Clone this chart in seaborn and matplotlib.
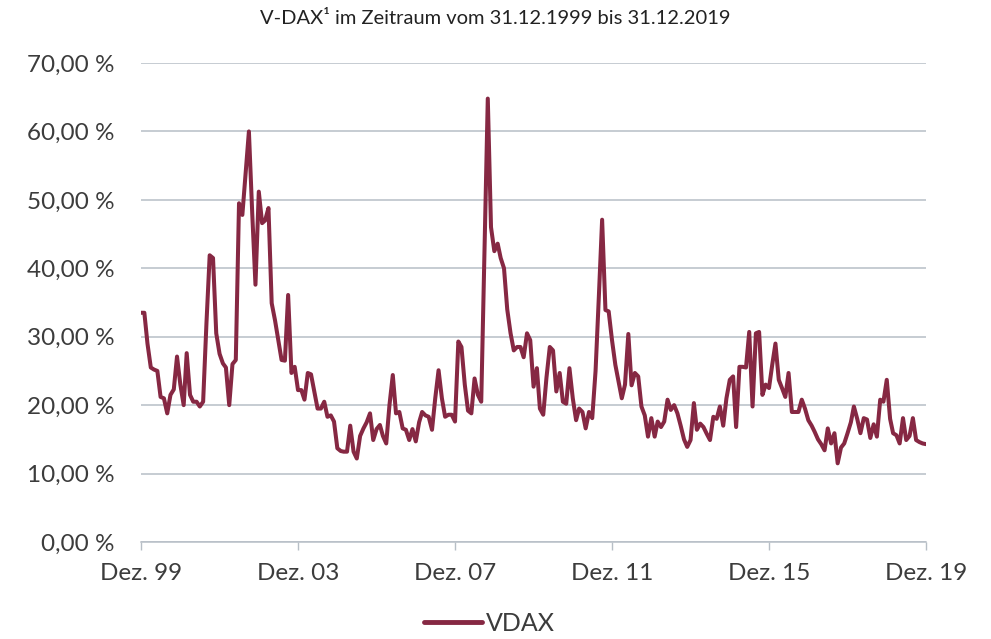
"""
V-DAX monthly history 31.12.1999 - 31.12.2019, redrawn as a seaborn line chart.
"""

import matplotlib
matplotlib.use("Agg")
import matplotlib.pyplot as plt
import matplotlib.ticker as mticker
import pandas as pd
import seaborn as sns

# Monthly month-end values (in %), Dec 1999 .. Dec 2019
start_date = "1999-12-31"
vdax_values = [
    33.5, 33.5, 29.0, 25.5, 25.2, 25.0, 21.2, 21.0, 18.8, 21.5,
    22.3, 27.1, 23.0, 20.0, 27.6, 21.5, 20.5, 20.5, 19.8, 20.5,
    32.0, 41.9, 41.5, 30.5, 27.5, 26.1, 25.5, 20.0, 26.0, 26.6,
    49.5, 47.8, 54.0, 60.0, 48.0, 37.6, 51.2, 46.6, 47.0, 48.8,
    34.9, 32.4, 29.5, 26.6, 26.5, 36.1, 24.7, 25.6, 22.2, 22.2,
    20.8, 24.7, 24.5, 22.0, 19.5, 19.5, 20.5, 18.3, 18.5, 17.6,
    13.7, 13.3, 13.2, 13.2, 17.0, 13.2, 12.2, 15.5, 16.6, 17.5,
    18.8, 14.9, 16.5, 17.1, 15.5, 14.4, 20.0, 24.4, 18.8, 19.0,
    16.6, 16.4, 14.9, 16.5, 14.7, 17.5, 19.0, 18.5, 18.3, 16.4,
    21.0, 25.1, 21.0, 18.3, 18.6, 18.6, 17.6, 29.3, 28.5, 23.0,
    19.2, 18.8, 23.9, 21.5, 20.5, 42.0, 64.8, 46.0, 42.5, 43.6,
    41.5, 40.0, 34.0, 30.5, 28.0, 28.5, 28.5, 27.0, 30.5, 29.5,
    22.7, 25.4, 19.5, 18.6, 24.0, 28.5, 28.0, 22.0, 24.7, 20.5,
    20.2, 25.4, 21.0, 17.8, 19.5, 19.0, 16.6, 19.0, 18.1, 25.0,
    36.0, 47.1, 33.9, 33.7, 29.5, 25.9, 23.5, 21.0, 23.0, 30.4,
    22.9, 24.7, 24.2, 19.8, 18.5, 15.4, 18.1, 15.4, 17.6, 16.8,
    17.6, 20.8, 19.3, 20.0, 18.8, 17.0, 15.0, 13.9, 14.9, 20.3,
    16.4, 17.3, 16.8, 15.8, 14.9, 18.3, 18.0, 19.8, 17.0, 21.0,
    23.7, 24.2, 16.8, 25.6, 25.6, 25.5, 30.7, 19.8, 30.5, 30.7,
    21.5, 23.0, 22.5, 26.0, 29.0, 23.7, 22.5, 21.2, 24.7, 19.0,
    19.0, 19.0, 20.8, 19.5, 17.8, 17.0, 16.1, 15.0, 14.3, 13.4,
    16.6, 14.4, 15.9, 11.5, 13.8, 14.4, 15.9, 17.5, 19.8, 18.0,
    15.9, 18.1, 17.9, 15.2, 17.2, 15.4, 20.8, 20.5, 23.7, 18.0,
    15.9, 15.6, 14.4, 18.1, 14.9, 15.5, 18.1, 14.9, 14.6, 14.4,
    14.3,
]
tick_years = [1999, 2003, 2007, 2011, 2015, 2019]
tick_labels = ["Dez. 99", "Dez. 03", "Dez. 07", "Dez. 11", "Dez. 15", "Dez. 19"]
y_ticks = [0, 10, 20, 30, 40, 50, 60, 70]
title_text = "V-DAX\u00b9 im Zeitraum vom 31.12.1999 bis 31.12.2019"
series_name = "VDAX"

df = pd.DataFrame({
    "date": pd.date_range(start=start_date, periods=len(vdax_values), freq="ME"),
    "value": vdax_values,
})

sns.set_theme(style="white")
plt.rcParams["font.family"] = ["Lato", "DejaVu Sans"]

line_color = "#862843"
grid_color = "#b7bec6"
text_color = "#3c3c3c"

fig = plt.figure(figsize=(9.91, 6.39), dpi=100)
ax = fig.add_axes([0.1423, 0.1518, 0.7921, 0.7496])

sns.lineplot(data=df, x="date", y="value", color=line_color, linewidth=2.9,
             label=series_name, ax=ax)

ax.set_xlim(df["date"].iloc[0], df["date"].iloc[-1])
ax.set_ylim(0, 70)

ax.set_yticks(y_ticks)
ax.yaxis.set_major_formatter(mticker.FuncFormatter(lambda v, _: f"{v:.2f}".replace(".", ",") + " %"))
ax.set_xticks([pd.Timestamp(f"{y}-12-31") for y in tick_years])
ax.set_xticklabels(tick_labels)

ax.grid(axis="y", color=grid_color, linewidth=1.1)
ax.grid(axis="x", visible=False)
ax.set_axisbelow(True)
for side in ["left", "right", "top"]:
    ax.spines[side].set_visible(False)
ax.spines["bottom"].set_color(grid_color)
ax.spines["bottom"].set_linewidth(1.1)

ax.tick_params(axis="y", length=0, pad=19, labelsize=17.5, labelcolor=text_color)
ax.tick_params(axis="x", direction="out", length=6, width=1.0, color=grid_color,
               pad=9, labelsize=17.5, labelcolor=text_color, bottom=True)
ax.set_xlabel("")
ax.set_ylabel("")

fig.text(0.5, 0.971, title_text, ha="center", va="center", fontsize=14.5, color="#222222")

handles, labels = ax.get_legend_handles_labels()
ax.legend_.remove()
leg = fig.legend(handles, labels, loc="center", bbox_to_anchor=(0.494, 0.024), frameon=False,
                 fontsize=18, handlelength=2.3, handletextpad=0.15, labelcolor=text_color,
                 borderpad=0.1)
for h in leg.get_lines():
    h.set_linewidth(3.5)

fig.savefig("out.png", dpi=100)
plt.close(fig)
